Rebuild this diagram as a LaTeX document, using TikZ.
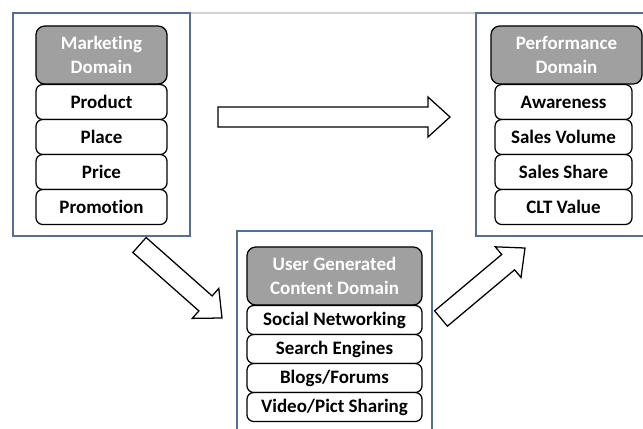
\documentclass[tikz,border=0pt]{standalone}
\usepackage{fontspec}
\setmainfont{Carlito}[Ligatures={NoCommon}]
\usetikzlibrary{calc}

\definecolor{frameblue}{RGB}{84,110,148}
\definecolor{headgray}{RGB}{160,160,160}
\definecolor{rulegray}{RGB}{210,210,210}

\tikzset{
  domainframe/.style={draw=frameblue,line width=1.1pt},
  domainhead/.style={draw=black,fill=headgray,rounded corners=0.22cm,line width=0.9pt,
    text=white,font=\fontsize{13.5}{16.5}\selectfont\bfseries,align=center,
    minimum height=1.45cm,inner sep=0pt},
  domainitem/.style={draw=black,fill=white,rounded corners=0.17cm,line width=0.9pt,
    font=\fontsize{13.5}{16}\selectfont\bfseries,inner sep=0pt},
  blockline/.style={draw=black,fill=white,line width=0.9pt,line join=miter}
}

% hollow block arrow from #1 to #2
\newcommand{\blockarrow}[2]{%
  \coordinate (head-base) at ($(#2)!0.55cm!(#1)$);
  \draw[blockline] ($(#1)!0.25cm!90:(#2)$) -- ($(head-base)!0.25cm!90:(#2)$)
    -- ($(head-base)!0.5cm!90:(#2)$) -- (#2) -- ($(head-base)!0.5cm!-90:(#2)$)
    -- ($(head-base)!0.25cm!-90:(#2)$) -- ($(#1)!0.25cm!-90:(#2)$) -- cycle;
}

\begin{document}
\begin{tikzpicture}[x=0.025cm,y=-0.025cm]
  \clip (0,0) rectangle (643,428);
  \fill[white] (0,0) rectangle (643,428);

  % frames
  \draw[rulegray,line width=1.1pt] (190,13) -- (476,13);
  \draw[domainframe] (13,13) rectangle (190,236);
  \draw[domainframe] (476,13) rectangle (660,236);
  \draw[domainframe] (237,231) rectangle (432,450);

  % marketing
  \node[domainhead,minimum width=3.275cm] (mkt) at (101.5,55) {Marketing\\Domain};
  \foreach \txt [count=\i] in {Product,Place,Price,Promotion}
    \node[domainitem,minimum width=3.275cm,minimum height=0.875cm] (mkt-\i) at (101.5,{67+35*\i}) {\txt};

  % performance
  \node[domainhead,minimum width=3.775cm] (perf) at (566.5,55) {Performance\\Domain};
  \foreach \txt [count=\i] in {Awareness,Sales Volume,Sales Share,CLT Value}
    \node[domainitem,minimum width=3.425cm,minimum height=0.875cm] (perf-\i) at (563.5,{67+35*\i}) {\txt};

  % user generated content
  \node[domainhead,minimum width=4.375cm] (ugc) at (334.5,276) {User Generated\\Content Domain};
  \foreach \txt [count=\i] in {Social Networking,Search Engines,Blogs/Forums,Video/Pict Sharing}
    \node[domainitem,minimum width=4.375cm,minimum height=0.725cm] (ugc-\i) at (334.5,{291+29*\i}) {\txt};

  % arrows
  \coordinate (top-tail) at (218,117);
  \coordinate (top-tip) at (450,117);
  \coordinate (down-tail) at (139.5,245);
  \coordinate (down-tip) at (222,318);
  \coordinate (up-tail) at (441,318.5);
  \coordinate (up-tip) at (525,248);
  \blockarrow{top-tail}{top-tip}
  \blockarrow{down-tail}{down-tip}
  \blockarrow{up-tail}{up-tip}
\end{tikzpicture}
\end{document}
